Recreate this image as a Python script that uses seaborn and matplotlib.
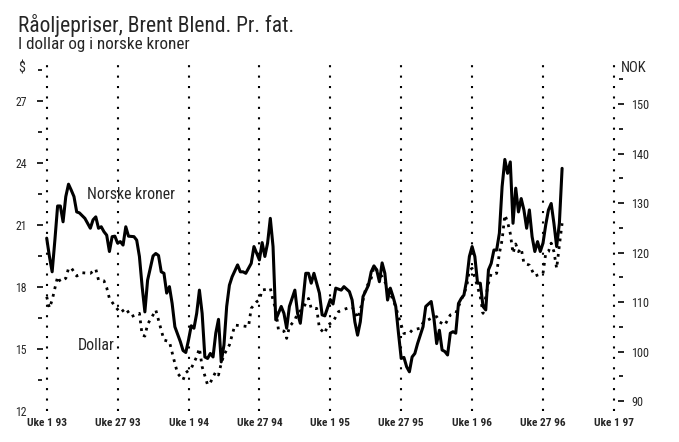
import matplotlib
matplotlib.use('Agg')
import matplotlib.pyplot as plt
import seaborn as sns

# uker regnet fra uke 1 1993 (0 = uke 1 93, 52 = uke 1 94 osv.)
nok_uke = [0, 1, 2, 3, 4, 5, 6, 7, 8, 9, 10, 11, 12, 14, 16, 17, 18, 19, 20, 21,
           22, 23, 24, 25, 26, 27, 28, 29, 30, 32, 33, 34, 35, 36, 37, 39, 40, 41, 42, 43,
           44, 45, 46, 47, 49, 50, 51, 52, 53, 54, 55, 56, 57, 58, 59, 60, 61, 62, 63, 64,
           65, 66, 67, 68, 70, 71, 72, 73, 75, 76, 78, 79, 80, 81, 82, 83, 84, 86, 87, 88,
           89, 91, 92, 93, 94, 95, 96, 97, 98, 100, 101, 102, 104, 105, 106, 108, 109, 111, 112, 113,
           114, 115, 116, 118, 119, 120, 121, 122, 123, 124, 125, 126, 127, 128, 129, 130, 131, 132, 133, 134,
           135, 136, 138, 139, 141, 142, 143, 144, 145, 146, 147, 148, 149, 150, 151, 152, 153, 154, 155, 156,
           157, 158, 159, 160, 161, 162, 163, 164, 165, 166, 167, 168, 169, 170, 171, 172, 173, 174, 175, 176,
           177, 178, 179, 180, 181, 182, 183, 184, 185, 186, 187, 188, 189]
nok_pris = [122.9, 119.2, 116.1, 122.5, 129.4, 129.4, 126.2, 131.3, 133.8, 132.6, 131.3, 128.2, 128.0, 126.9, 124.9, 126.6, 127.2, 124.9, 125.2, 124.2,
            123.5, 120.2, 123.2, 123.3, 121.9, 122.2, 121.5, 125.2, 123.3, 123.2, 122.5, 119.2, 113.1, 108.0, 114.4, 119.3, 119.8, 119.4, 116.1, 115.8,
            111.8, 113.1, 109.7, 105.0, 102.0, 100.2, 99.8, 102.3, 105.2, 104.7, 107.7, 112.4, 107.7, 98.9, 98.6, 99.6, 98.9, 103.7, 106.5, 97.9,
            101.3, 109.1, 113.4, 115.1, 117.5, 116.1, 116.1, 115.8, 117.8, 121.2, 118.5, 122.0, 119.2, 121.9, 126.9, 121.2, 106.4, 109.1, 107.7, 104.7,
            109.1, 112.4, 107.7, 105.7, 110.4, 115.8, 115.8, 113.8, 115.8, 111.8, 107.4, 107.2, 110.5, 109.6, 112.8, 112.4, 113.1, 112.1, 110.4, 106.0,
            103.3, 106.0, 111.1, 113.4, 116.1, 117.3, 116.5, 114.1, 117.9, 115.8, 110.4, 112.8, 111.1, 109.1, 103.7, 98.6, 98.8, 96.9, 95.9, 98.9,
            99.6, 101.6, 105.0, 109.1, 110.1, 106.7, 101.6, 104.3, 100.3, 100.0, 99.3, 103.7, 104.0, 103.7, 109.7, 110.7, 111.4, 114.4, 119.2, 121.2,
            119.2, 113.8, 113.8, 109.1, 108.4, 116.5, 117.8, 120.5, 120.5, 123.9, 133.3, 138.8, 136.0, 138.3, 125.9, 133.0, 128.2, 130.9, 128.6, 124.9,
            128.6, 123.2, 120.2, 122.2, 120.2, 121.9, 125.6, 128.6, 129.9, 125.9, 121.2, 125.9, 137.0]

usd_uke = [0, 1, 2, 3, 4, 5, 7, 8, 9, 11, 13, 16, 18, 19, 21, 22, 23, 25, 27, 29,
           31, 34, 35, 36, 37, 39, 40, 42, 43, 45, 47, 48, 50, 51, 53, 55, 56, 57, 59, 60,
           62, 63, 64, 65, 67, 68, 69, 72, 74, 75, 77, 78, 79, 81, 82, 83, 84, 85, 87, 88,
           89, 91, 92, 94, 96, 97, 99, 100, 102, 103, 105, 107, 109, 112, 114, 116, 117, 119, 120, 122,
           123, 125, 128, 129, 131, 133, 134, 137, 138, 141, 143, 144, 146, 148, 150, 152, 154, 155, 156, 158,
           159, 160, 161, 162, 163, 165, 166, 167, 168, 169, 170, 171, 172, 173, 174, 175, 177, 179, 180, 182,
           183, 184, 185, 186, 187, 188, 189]
usd_pris = [17.52, 16.98, 17.36, 17.93, 18.49, 18.25, 18.41, 18.89, 18.92, 18.52, 18.68, 18.65, 18.86, 18.33, 18.29, 17.96, 17.44, 17.07, 16.75, 16.96,
            16.56, 16.72, 15.67, 15.62, 16.19, 16.64, 16.88, 15.91, 15.43, 15.35, 14.30, 13.82, 13.50, 13.85, 14.06, 14.62, 15.03, 14.14, 13.26, 13.37,
            13.90, 13.74, 14.30, 14.71, 15.19, 15.67, 16.15, 16.11, 16.07, 16.96, 17.28, 17.36, 17.85, 17.88, 17.93, 17.36, 16.91, 15.91, 15.86, 15.51,
            16.07, 16.40, 16.72, 16.96, 17.44, 16.96, 16.96, 16.00, 15.75, 16.15, 16.31, 16.80, 16.91, 17.04, 16.48, 17.36, 17.93, 18.41, 18.97, 18.65,
            18.49, 18.00, 17.04, 16.56, 15.75, 15.75, 15.91, 16.00, 16.27, 16.48, 16.56, 16.31, 16.15, 16.64, 16.72, 17.36, 18.00, 18.81, 18.89, 18.00,
            17.52, 16.72, 17.52, 18.17, 18.65, 18.65, 19.62, 20.26, 21.47, 21.14, 20.58, 19.62, 20.07, 19.70, 19.86, 19.14, 19.05, 18.52, 18.57, 18.65,
            19.62, 19.70, 20.11, 19.70, 18.89, 20.00, 21.07]

tick_uker = [0, 26, 52, 78, 104, 130, 156, 182, 208]
tick_navn = ['Uke 1 93', 'Uke 27 93', 'Uke 1 94', 'Uke 27 94', 'Uke 1 95',
             'Uke 27 95', 'Uke 1 96', 'Uke 27 96', 'Uke 1 97']
usd_ticks = [12, 15, 18, 21, 24, 27]
usd_minor = [13.5, 16.5, 19.5, 22.5, 25.5, 28.5]
nok_ticks = [90, 100, 110, 120, 130, 140, 150]
nok_minor = [95, 105, 115, 125, 135, 145, 155]

sns.set_style('white')
plt.rcParams['font.family'] = ['Roboto Condensed', 'Liberation Sans', 'DejaVu Sans']

W, H = 679, 442
fig = plt.figure(figsize=(W / 100, H / 100), dpi=100)
ax = fig.add_axes([39.5 / W, 31 / H, (621 - 39.5) / W, (411 - 60) / H])
ax2 = ax.twinx()

sns.lineplot(x=usd_uke, y=usd_pris, ax=ax, color='black', lw=2.0,
             linestyle=(0, (1, 1.8)), estimator=None)
sns.lineplot(x=nok_uke, y=nok_pris, ax=ax2, color='black', lw=2.2,
             estimator=None)

ax.set_xlim(-2.64, 210.6)
ax.set_ylim(12, 28.96)
ax2.set_ylim(87.98, 158.89)

for a in (ax, ax2):
    for s in a.spines.values():
        s.set_visible(False)
    a.set_xlabel('')
    a.set_ylabel('')

ax.set_xticks(tick_uker)
ax.set_xticklabels(tick_navn, fontsize=8.2, fontweight='bold')
ax.tick_params(axis='x', length=0, pad=5)
ax.xaxis.grid(True, color='black', lw=1.5, linestyle=(0, (1, 4)))
ax.yaxis.grid(False)
ax2.grid(False)

ax.set_yticks(usd_ticks)
ax.set_yticks(usd_minor, minor=True)
ax.tick_params(axis='y', which='major', direction='inout', length=5, width=1.4,
               labelsize=8.5, pad=6.5, left=True, right=False)
ax.tick_params(axis='y', which='minor', direction='inout', length=2.2, width=1.4,
               left=True, right=False)
ax.yaxis.get_major_ticks()[0].tick1line.set_visible(False)

ax2.set_yticks(nok_ticks)
ax2.set_yticks(nok_minor, minor=True)
ax2.tick_params(axis='y', which='major', direction='inout', length=5, width=1.4,
                labelsize=8.8, pad=5, right=True, left=False)
ax2.tick_params(axis='y', which='minor', direction='inout', length=2.2, width=1.4,
                right=True, left=False)

fig.text(18 / W, 1 - 31.7 / H, 'Råoljepriser, Brent Blend. Pr. fat.',
         fontsize=15.5, va='baseline')
fig.text(18 / W, 1 - 49.3 / H, 'I dollar og i norske kroner',
         fontsize=12.3, va='baseline')
fig.text(18 / W, 1 - 69 / H, '$', fontsize=10, va='center')
fig.text(621 / W, 1 - 68 / H, 'NOK', fontsize=10.5, va='center')

ax.text(14.9, 22.48, 'Norske kroner', fontsize=11.4, va='center')
ax.text(11.4, 15.16, 'Dollar', fontsize=11.4, va='center')

fig.savefig('out.png', dpi=100)
